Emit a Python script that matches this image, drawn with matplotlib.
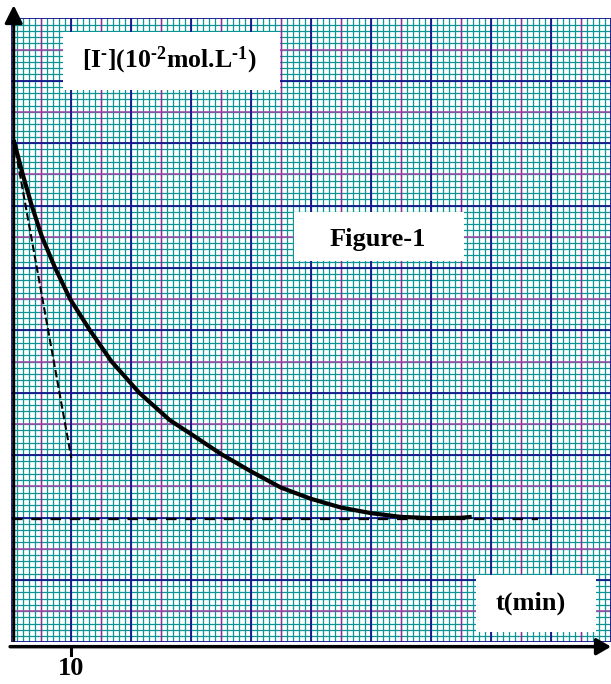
import matplotlib
matplotlib.use('Agg')
import matplotlib.pyplot as plt
from matplotlib.patches import Rectangle
import numpy as np

# [I-] (10^-2 mol/L) versus time (min)
t_min = [0.5, 2.0, 3.5, 5.2, 7.4, 9.9, 13.2, 16.8, 21.4, 26.5, 30, 35, 40, 45, 50, 55, 60, 65, 70, 75, 76.8]
conc = [8.05, 7.5, 7.0, 6.5, 6.0, 5.5, 5.0, 4.5, 4.0, 3.56, 3.34, 3.02, 2.74, 2.48, 2.30, 2.16, 2.07, 2.01, 1.99, 1.995, 2.01]

# tangent at t = 0 and the final level
tangent_t = [0.5, 10.1]
tangent_c = [8.05, 2.95]
final_t = [0.2, 87.8]
final_c = [1.975, 1.975]

x_tick = [10]
x_tick_labels = ['10']

plt.rcParams['font.family'] = ['Liberation Serif', 'DejaVu Serif']
plt.rcParams['mathtext.fontset'] = 'custom'
plt.rcParams['mathtext.rm'] = 'Liberation Serif:bold'
plt.rcParams['mathtext.it'] = 'Liberation Serif:bold'
plt.rcParams['mathtext.bf'] = 'Liberation Serif:bold'


def main():
    fig = plt.figure(figsize=(6.11, 6.84), dpi=100)
    ax = fig.add_axes([10.7 / 611, 41.7 / 684, 600.3 / 611, 624 / 684])
    ax.set_xlim(0, 100)
    ax.set_ylim(0, 10)
    ax.axis('off')

    # graph paper
    teal = '#0d9494'
    ax.vlines(np.arange(1, 100, 1), 0, 10, color=teal, lw=0.9, zorder=1)
    ax.hlines(np.arange(0.1, 10, 0.1), 0, 100, color=teal, lw=0.9, zorder=1)
    ax.vlines(np.arange(5, 100, 10), 0, 10, color='#9a2596', lw=1.0, zorder=2)
    ax.hlines(np.arange(0.5, 10, 1), 0, 100, color='#a844a6', lw=1.1, zorder=2)
    ax.vlines(np.arange(0, 101, 10), 0, 10, color='#14148c', lw=1.3, zorder=3)
    ax.hlines(np.arange(0, 11, 1), 0, 100, color='#14148c', lw=1.3, zorder=3)

    # white label boxes
    boxes = [(8.76, 8.85, 36.1, 0.935), (47.2, 6.115, 28.3, 0.785), (77.5, 0.17, 20.0, 0.908)]
    for bx, by, bw, bh in boxes:
        ax.add_patch(Rectangle((bx, by), bw, bh, facecolor='white', edgecolor='none', zorder=4))

    ax.text(26.4, 9.33, '[I$^{\u2010}$](10$^{\u20102}$mol.L$^{\u20101}$)', fontsize=18.5,
            fontweight='bold', ha='center', va='center', zorder=5)
    ax.text(61.2, 6.45, 'Figure-1', fontsize=19, fontweight='bold',
            ha='center', va='center', zorder=5)
    ax.text(86.7, 0.62, 't(min)', fontsize=19, fontweight='bold',
            ha='center', va='center', zorder=5)

    # curves
    ax.plot(final_t, final_c, color='black', lw=1.65, dashes=(4.6, 3.8), zorder=6)
    ax.plot(tangent_t, tangent_c, color='black', lw=1.5, dashes=(3.6, 1.5), zorder=6)
    ax.plot(t_min, conc, color='black', lw=3.0, solid_capstyle='butt',
            solid_joinstyle='round', zorder=7)

    # axes with arrows
    ax.annotate('', xy=(0.5, 10.21), xytext=(0.5, 0.03),
                arrowprops=dict(arrowstyle='-|>,head_length=1.08,head_width=0.54',
                                color='black', lw=2.2, mutation_scale=10,
                                shrinkA=0, shrinkB=0),
                annotation_clip=False, zorder=8)
    ax.annotate('', xy=(100, -0.07), xytext=(-0.1, -0.07),
                arrowprops=dict(arrowstyle='-|>,head_length=0.86,head_width=0.5',
                                color='black', lw=2.5, mutation_scale=10,
                                shrinkA=0, shrinkB=0),
                annotation_clip=False, zorder=8)
    for xt, lab in zip(x_tick, x_tick_labels):
        ax.plot([xt, xt], [-0.07, -0.2], color='black', lw=2.2, clip_on=False, zorder=8)
        ax.text(xt, -0.42, lab, fontsize=19, fontweight='bold',
                ha='center', va='center', clip_on=False)

    fig.savefig('out.png', dpi=100)


if __name__ == "__main__":
    main()
